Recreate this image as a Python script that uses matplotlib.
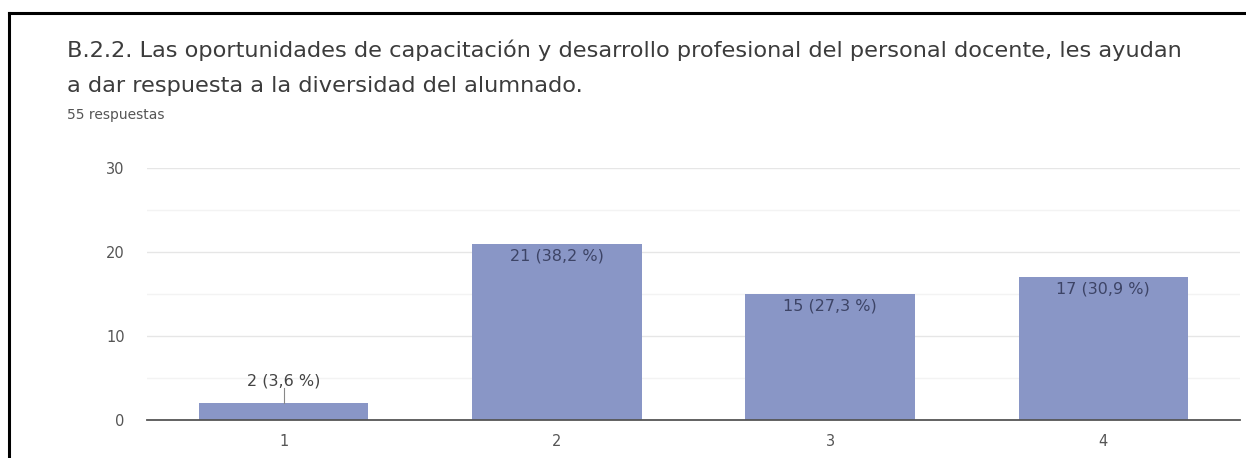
import matplotlib
matplotlib.use("Agg")
import matplotlib.pyplot as plt
from matplotlib.lines import Line2D

categories = ["1", "2", "3", "4"]
counts = [2, 21, 15, 17]
labels = ["2 (3,6 %)", "21 (38,2 %)", "15 (27,3 %)", "17 (30,9 %)"]
yticks = [0, 10, 20, 30]
title_line1 = "B.2.2. Las oportunidades de capacitación y desarrollo profesional del personal docente, les ayudan"
title_line2 = "a dar respuesta a la diversidad del alumnado."
subtitle = "55 respuestas"

W, H = 1246, 458
plt.rcParams["font.family"] = ["DejaVu Sans"]
fig = plt.figure(figsize=(W / 100, H / 100), dpi=100)
fig.patch.set_facecolor("white")

# border lines (top and left)
fig.add_artist(Line2D([9 / W, 1.0], [1 - 13 / H, 1 - 13 / H], color="black", lw=2.2))
fig.add_artist(Line2D([9 / W, 9 / W], [0, 1 - 13 / H], color="black", lw=2.2))

fig.text(67 / W, 1 - 57 / H, title_line1, fontsize=16.2, color="#3c3c3c", va="baseline", ha="left")
fig.text(67 / W, 1 - 92 / H, title_line2, fontsize=16.2, color="#3c3c3c", va="baseline", ha="left")
fig.text(67 / W, 1 - 119 / H, subtitle, fontsize=10, color="#555555", va="baseline", ha="left")

left, right = 147, 1240
bottom, top = 420, 168
ax = fig.add_axes([left / W, 1 - bottom / H, (right - left) / W, (bottom - top) / H])
x = list(range(len(categories)))
bars = ax.bar(x, counts, width=0.62, color="#8996c6", zorder=3)
ax.set_xlim(-0.5, len(categories) - 0.5)
ax.set_ylim(0, 30)
ax.set_yticks(yticks)
ax.set_yticks([5, 15, 25], minor=True)
ax.set_xticks(x)
ax.set_xticklabels(categories)
ax.grid(axis="y", which="major", color="#e6e6e6", lw=1, zorder=0)
ax.grid(axis="y", which="minor", color="#f3f3f3", lw=1, zorder=0)
for s in ["top", "right", "left"]:
    ax.spines[s].set_visible(False)
ax.spines["bottom"].set_color("#555555")
ax.spines["bottom"].set_linewidth(1.3)
ax.spines["bottom"].set_zorder(4)
ax.tick_params(axis="both", which="both", length=0, labelsize=10.5, labelcolor="#555555")
ax.tick_params(axis="y", pad=16)
ax.tick_params(axis="x", pad=10)

for xi, c, lab in zip(x, counts, labels):
    if c < 5:
        ax.plot([xi, xi], [c, c + 1.8], color="#888888", lw=0.8, zorder=4)
        ax.text(xi, c + 2.65, lab, ha="center", va="center", fontsize=11.5, color="#444444")
    else:
        ax.text(xi, c - 1.45, lab, ha="center", va="center", fontsize=11.5, color="#3d4466", zorder=5)

fig.savefig("out.png", dpi=100, facecolor="white")
